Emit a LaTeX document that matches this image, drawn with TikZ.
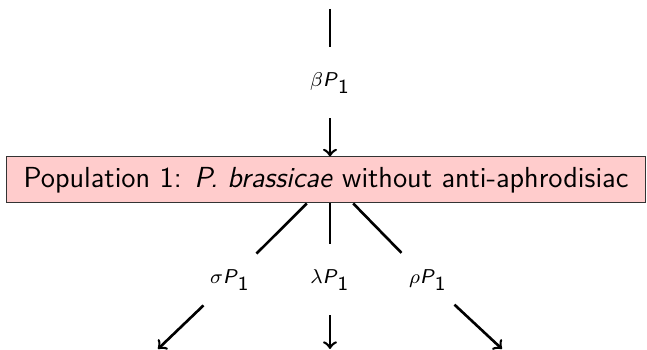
\documentclass[tikz,border=0pt]{standalone}
\renewcommand{\familydefault}{\sfdefault}
\begin{document}
\begin{tikzpicture}[x=0.4pt,y=-0.4pt,
  popbox/.style={draw=black!80, fill=red!20, font=\sffamily\fontsize{11.6}{14}\selectfont, inner sep=0pt,
    minimum width=255.2pt, minimum height=18.4pt},
  lab/.style={font=\sffamily\footnotesize, minimum width=20.8pt, minimum height=28pt, inner sep=0pt},
  conn/.style={line width=1.05pt},
  arr/.style={line width=1.05pt,->}]
\useasboundingbox (0,0) rectangle (647,350);
\node[popbox] (pop) at (326,180) {Population 1: \textit{P. brassicae} without anti-aphrodisiac};
\coordinate (top) at (330,9);
\node[lab] (b) at (330,83) {$\beta\textsf{\textit{P}}_{\textsf{1}}$};
\draw[conn] (top) -- (b);
\draw[arr] (b) -- (pop.north -| b);
\node[lab] (s) at (230,280) {$\sigma\textsf{\textit{P}}_{\textsf{1}}$};
\node[lab] (l) at (330,280) {$\lambda\textsf{\textit{P}}_{\textsf{1}}$};
\node[lab] (r) at (428,280) {$\rho\textsf{\textit{P}}_{\textsf{1}}$};
\coordinate (es) at (158,349);
\coordinate (el) at (330,349);
\coordinate (er) at (502,349);
\draw[conn] ([xshift=-7.7pt]pop.south) -- (s);
\draw[conn] (pop.south -| l) -- (l);
\draw[conn] ([xshift=10.9pt]pop.south) -- (r);
\draw[arr] (s) -- (es);
\draw[arr] (l) -- (el);
\draw[arr] (r) -- (er);
\end{tikzpicture}
\end{document}
